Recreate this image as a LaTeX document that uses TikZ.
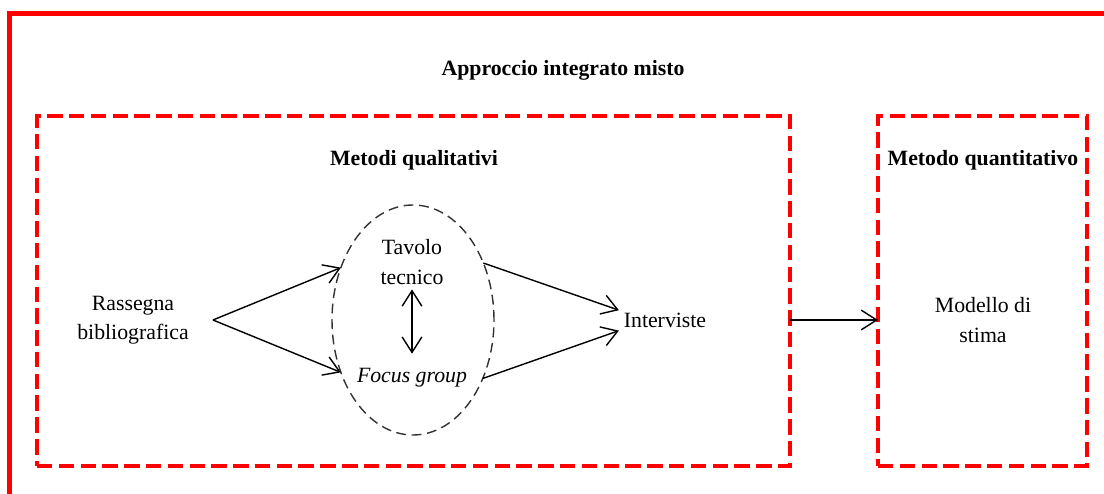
\documentclass[tikz,border=0pt]{standalone}
\usepackage{fontspec}
\setmainfont{Liberation Serif}
\usepackage{tikz}
\usetikzlibrary{arrows.meta,positioning,calc,shapes.geometric}

\begin{document}
\begin{tikzpicture}[>={Straight Barb[length=11pt,width=14pt]},
	txt/.style={font=\fontsize{15.5}{21}\selectfont, align=center},
	headtxt/.style={font=\fontsize{15.5}{21}\selectfont\bfseries},
	dashbox/.style={draw=red, line width=2.5pt, dash pattern=on 11pt off 4.5pt, inner sep=0pt, outer sep=0pt, minimum height=8.75cm},
	conn/.style={black, line width=1pt}]
		\clip (0,0) rectangle (27.6,12.325);
		\draw [red, line width = 3.5pt] (0.24,11.99) rectangle (29,-1);
		\node (title) at (14.075,10.575) [headtxt] {Approccio integrato misto};

		\node (qual) at (10.3375,5.05) [dashbox, minimum width=18.825cm] {};
		\node (quant) at (24.5625,5.05) [dashbox, minimum width=5.225cm] {};
		\node (qualhead) at (10.35,8.325) [headtxt] {Metodi qualitativi};
		\node (quanthead) at (24.575,8.325) [headtxt] {Metodo quantitativo};

		\node (grp) at (10.325,4.325) [ellipse, draw=black!80, line width=1pt, dash pattern=on 7pt off 4pt, minimum width=4.05cm, minimum height=5.75cm, inner sep=0pt, outer sep=0pt] {};
		\node (rass) at (3.325,4.325) [txt] {Rassegna\\bibliografica};
		\node (tav) at (10.3,5.775) [txt] {Tavolo\\tecnico};
		\node (foc) at (10.3,2.875) [txt] {\itshape Focus group};
		\node (intv) at (16.625,4.325) [txt] {Interviste};
		\node (stima) at (24.575,4.325) [txt] {Modello di\\stima};
		\coordinate (split) at (5.325,4.325);

		\draw [conn, ->] (split) -- (grp.144);
		\draw [conn, ->] (split) -- (grp.216);
		\draw [conn, <->, shorten >=7pt] (tav.south) -- (foc.north);
		\draw [conn, ->] (grp.39) -- (intv.168);
		\draw [conn, ->] (grp.320) -- (intv.193);
		\draw [conn, ->] (qual.east |- intv.east) -- (quant.west |- intv.east);
\end{tikzpicture}
\end{document}
